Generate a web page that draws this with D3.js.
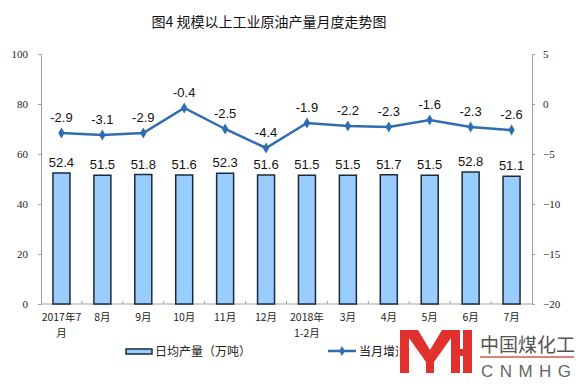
<!DOCTYPE html>
<html>
<head>
<meta charset="utf-8">
<script src="https://cdn.jsdelivr.net/npm/d3@7"></script>
<style>
  body { margin: 0; background: #fff; }
  svg { display: block; }
</style>
</head>
<body>
<div id="vis"></div>
<script>
// data
var months = ['2017年7月', '8月', '9月', '10月', '11月', '12月', '2018年1-2月', '3月', '4月', '5月', '6月', '7月'];
var monthLines = [['2017年7', '月'], ['8月'], ['9月'], ['10月'], ['11月'], ['12月'], ['2018年', '1-2月'], ['3月'], ['4月'], ['5月'], ['6月'], ['7月']];
var output = [52.4, 51.5, 51.8, 51.6, 52.3, 51.6, 51.5, 51.5, 51.7, 51.5, 52.8, 51.1];
var growth = [-2.9, -3.1, -2.9, -0.4, -2.5, -4.4, -1.9, -2.2, -2.3, -1.6, -2.3, -2.6];
var leftTicks = [0, 20, 40, 60, 80, 100];
var rightTicks = [5, 0, -5, -10, -15, -20];

var width = 576, height = 384;
var margin = { top: 54, left: 41, bottom: 80, right: 44 };
var lineColor = '#2f6db3';

var svg = d3.select('#vis').append('svg')
  .attr('width', width)
  .attr('height', height);

var x = d3.scaleBand()
  .domain(months)
  .range([margin.left, width - margin.right]);
var yL = d3.scaleLinear().domain([0, 100]).range([height - margin.bottom, margin.top]);
var yR = d3.scaleLinear().domain([-20, 5]).range([height - margin.bottom, margin.top]);

// title
svg.append('text')
  .attr('x', 269).attr('y', 27)
  .attr('text-anchor', 'middle')
  .attr('font-family', 'Noto Sans CJK SC')
  .attr('font-size', 14)
  .attr('fill', '#111')
  .text('图4  规模以上工业原油产量月度走势图');

// left axis
var axL = svg.append('g')
  .attr('transform', 'translate(' + margin.left + ',0)')
  .call(d3.axisLeft(yL).tickValues(leftTicks).tickSize(3).tickPadding(10));
axL.selectAll('text').attr('font-family', 'Liberation Serif').attr('font-size', 11).attr('fill', '#222');

// right axis
var axR = svg.append('g')
  .attr('transform', 'translate(' + (width - margin.right) + ',0)')
  .call(d3.axisRight(yR).tickValues(rightTicks).tickSize(3).tickPadding(8));
axR.selectAll('text').attr('font-family', 'Liberation Serif').attr('font-size', 11).attr('fill', '#222');

svg.selectAll('.domain').attr('stroke', '#a0a0a0');
svg.selectAll('.tick line').attr('stroke', '#a0a0a0');

// x axis line + small ticks between categories
var base = yL(0);
svg.append('line')
  .attr('x1', margin.left).attr('x2', width - margin.right)
  .attr('y1', base).attr('y2', base)
  .attr('stroke', '#a0a0a0');
svg.selectAll('.xtick')
  .data(months.slice(1))
  .enter().append('line')
  .attr('x1', function(d) { return x(d); })
  .attr('x2', function(d) { return x(d); })
  .attr('y1', base).attr('y2', base - 3)
  .attr('stroke', '#a0a0a0');

// month labels, one text per line
months.forEach(function(m, i) {
  monthLines[i].forEach(function(s, j) {
    svg.append('text')
      .attr('x', x(m) + x.bandwidth() / 2)
      .attr('y', base + 17 + j * 15.5)
      .attr('text-anchor', 'middle')
      .attr('font-family', 'Noto Sans CJK SC')
      .attr('font-size', 10.5)
      .attr('fill', '#222')
      .text(s);
  });
});

// bars
var barW = 17;
svg.selectAll('.bar')
  .data(output)
  .enter().append('rect')
  .attr('class', 'bar')
  .attr('x', function(d, i) { return x(months[i]) + x.bandwidth() / 2 - barW / 2; })
  .attr('y', function(d) { return yL(d); })
  .attr('width', barW)
  .attr('height', function(d) { return base - yL(d); })
  .attr('fill', '#99ccff')
  .attr('stroke', '#1b2a3a')
  .attr('stroke-width', 1.5);

svg.selectAll('.barlabel')
  .data(output)
  .enter().append('text')
  .attr('x', function(d, i) { return x(months[i]) + x.bandwidth() / 2; })
  .attr('y', function(d) { return yL(d) - 6; })
  .attr('text-anchor', 'middle')
  .attr('font-family', 'Liberation Sans')
  .attr('font-size', 13)
  .attr('fill', '#111')
  .text(function(d) { return d.toFixed(1); });

// growth line
var line = d3.line()
  .x(function(d, i) { return x(months[i]) + x.bandwidth() / 2; })
  .y(function(d) { return yR(d); });

svg.append('path')
  .datum(growth)
  .attr('d', line)
  .attr('fill', 'none')
  .attr('stroke', lineColor)
  .attr('stroke-width', 2.5);

svg.selectAll('.marker')
  .data(growth)
  .enter().append('path')
  .attr('d', d3.symbol().type(d3.symbolDiamond).size(36))
  .attr('transform', function(d, i) {
    return 'translate(' + (x(months[i]) + x.bandwidth() / 2) + ',' + yR(d) + ')';
  })
  .attr('fill', lineColor);

svg.selectAll('.linelabel')
  .data(growth)
  .enter().append('text')
  .attr('x', function(d, i) { return x(months[i]) + x.bandwidth() / 2; })
  .attr('y', function(d) { return yR(d) - 11; })
  .attr('text-anchor', 'middle')
  .attr('font-family', 'Liberation Sans')
  .attr('font-size', 13)
  .attr('fill', '#111')
  .text(function(d) { return d.toFixed(1); });

// legend
var lg = svg.append('g');
lg.append('rect')
  .attr('x', 126).attr('y', 349).attr('width', 26).attr('height', 5)
  .attr('fill', '#99ccff').attr('stroke', '#1b2a3a').attr('stroke-width', 1.5);
lg.append('text')
  .attr('x', 155).attr('y', 356)
  .attr('font-family', 'Noto Sans CJK SC').attr('font-size', 12).attr('fill', '#222')
  .text('日均产量（万吨）');
lg.append('line')
  .attr('x1', 328).attr('x2', 356).attr('y1', 351).attr('y2', 351)
  .attr('stroke', lineColor).attr('stroke-width', 2.5);
lg.append('path')
  .attr('d', d3.symbol().type(d3.symbolDiamond).size(30))
  .attr('transform', 'translate(342,351)')
  .attr('fill', lineColor);
lg.append('text')
  .attr('x', 359).attr('y', 356)
  .attr('font-family', 'Noto Sans CJK SC').attr('font-size', 12).attr('fill', '#222')
  .text('当月增速（%）');

// watermark logo
var logo = svg.append('g');
var red = '#e0312f';
logo.append('rect').attr('x', 398).attr('y', 328).attr('width', 178).attr('height', 56).attr('fill', '#fff').attr('opacity', 0.85);
logo.append('path')
  .attr('d', 'M400,330 H418 L430,350 L442,330 H460 V373 H451 V338 L434,362 V373 H426 V362 L409,338 V373 H400 Z')
  .attr('fill', red);
logo.append('rect').attr('x', 451).attr('y', 349).attr('width', 14).attr('height', 7).attr('fill', red);
logo.append('rect').attr('x', 463).attr('y', 330).attr('width', 9).attr('height', 43).attr('fill', red);
logo.append('text')
  .attr('x', 480).attr('y', 352)
  .attr('font-family', 'Noto Sans CJK SC').attr('font-size', 19).attr('fill', '#555')
  .text('中国煤化工');
logo.append('line')
  .attr('x1', 480).attr('x2', 574).attr('y1', 357).attr('y2', 357)
  .attr('stroke', '#d9534f').attr('stroke-width', 1.5);
logo.append('text')
  .attr('x', 481).attr('y', 377)
  .attr('font-family', 'Liberation Sans').attr('font-size', 17).attr('fill', '#666')
  .attr('textLength', 90).attr('lengthAdjust', 'spacing')
  .text('CNMHG');
</script>
</body>
</html>
